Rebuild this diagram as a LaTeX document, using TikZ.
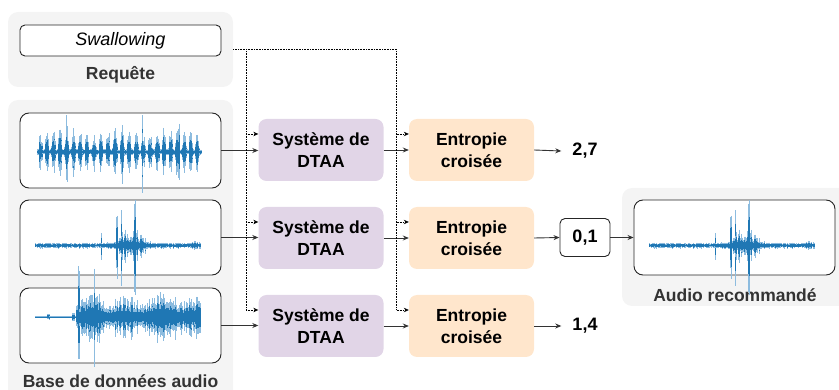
\documentclass[tikz,border=0pt]{standalone}
\usepackage{fontspec}
\setmainfont{Liberation Sans}
\usetikzlibrary{arrows.meta,calc}
\definecolor{grpgray}{HTML}{F4F4F4}
\definecolor{lav}{HTML}{E1D5E7}
\definecolor{peach}{HTML}{FFE6CC}
\definecolor{wblue}{HTML}{1F77B4}
\definecolor{wlight}{HTML}{8DBCDF}
\definecolor{lbl}{HTML}{333333}
\tikzset{
  grp/.style={fill=grpgray,draw=none,rounded corners=10pt,inner sep=0pt},
  audiobox/.style={draw=black!85,line width=0.9pt,fill=white,rounded corners=9pt,minimum width=201pt,minimum height=75pt,inner sep=0pt},
  dtaa/.style={fill=lav,draw=none,rounded corners=8pt,minimum width=125pt,minimum height=62pt,align=center,font=\fontsize{17.5}{22}\selectfont\bfseries,inner sep=0pt},
  ent/.style={dtaa,fill=peach},
  grplabel/.style={font=\fontsize{17.5}{19}\selectfont\bfseries,text=lbl,inner sep=0pt},
  val/.style={font=\fontsize{18}{20}\selectfont\bfseries,inner sep=0pt},
  arr/.style={draw=black!80,line width=0.9pt,-{Stealth[length=6pt,width=5pt]}},
  dotline/.style={draw=black,line width=0.6pt,densely dotted},
  dotarr/.style={dotline,-{Stealth[length=5pt,width=4.5pt]}},
  wavel/.style={draw=wlight,line width=0.5pt},
  waved/.style={draw=wblue,line width=0.5pt},
}
\newcommand{\wavedraw}[5]{%
  \pgfmathsetseed{#4}%
  \foreach \t in {0,0.6,...,#3}{%
    \pgfmathsetmacro\aa{#5}%
    \pgfmathsetmacro\bb{\aa*(0.75+0.5*rnd)}%
    \draw[wavel] (#1+\t,#2-\aa) -- (#1+\t,#2+\bb);
    \draw[waved] (#1+\t,#2-0.62*\aa) -- (#1+\t,#2+0.62*\bb);
  }}
\begin{document}
\begin{tikzpicture}[x=1pt,y=-1pt]
\useasboundingbox (0,0) rectangle (839,390);
\clip (0,0) rectangle (839,390);
% groups
\node[grp,minimum width=225pt,minimum height=75pt] (qgrp) at (120.5,49.5) {};
\node[grp,minimum width=225pt,minimum height=300pt] (bgrp) at (120.5,250) {};
\node[grp,minimum width=228pt,minimum height=118pt] (rgrp) at (736,247) {};
% query
\node[draw=black!85,line width=0.9pt,fill=white,rounded corners=5pt,minimum width=201pt,minimum height=31pt,inner sep=0pt,font=\fontsize{18}{20}\selectfont\itshape] (query) at (120.5,40.5) {Swallowing};
\node[grplabel] (qlab) at (120.5,75) {Requête};
% audio boxes
\node[audiobox] (a1) at (120.5,150.5) {};
\node[audiobox] (a2) at (120.5,237.5) {};
\node[audiobox] (a3) at (120.5,325.5) {};
\node[grplabel] (blab) at (120.5,381) {Base de données audio};
\node[audiobox] (rec) at (734.5,237.5) {};
\node[grplabel] (rlab) at (735,295) {Audio recommandé};
% waveforms
\wavedraw{37}{152}{164}{11}{2+0.8*rnd+(13+12*rnd)*(0.6+0.4*abs(sin(\t*3.3)))*max(0,abs(sin(\t*26.5+30*sin(\t*2.1)))-0.5)/0.5+22*(rnd>0.985)}
\wavedraw{35}{245.5}{166}{5}{1.3+1.5*rnd+(3+14*rnd^2)/(1+min(abs(\t-96)/11,8)^4)+3*rnd/(1+min(abs(\t-161)/3,8)^4)+25*(abs(\t-82)<0.4)+30*(abs(\t-86)<0.4)+36*(abs(\t-100)<0.4)+10*(abs(\t-66)<0.4)}
\wavedraw{35}{317}{166}{3}{(\t<41)*(0.6+2*(abs(\t-13)<1)+3*(abs(\t-38.5)<1.5))+(\t>=41)*(3+(6+14*rnd^2)*(0.45+0.55*abs(sin(\t*5)))+8*rnd/(1+min(abs(\t-60)/8,8)^4)+10*rnd/(1+min(abs(\t-130)/10,8)^4))+38*(abs(\t-43.5)<0.5)+28*(abs(\t-59)<0.5)}
\wavedraw{649}{245.5}{166}{5}{1.3+1.5*rnd+(3+14*rnd^2)/(1+min(abs(\t-96)/11,8)^4)+3*rnd/(1+min(abs(\t-161)/3,8)^4)+25*(abs(\t-82)<0.4)+30*(abs(\t-86)<0.4)+36*(abs(\t-100)<0.4)+10*(abs(\t-66)<0.4)}
% processing boxes
\node[dtaa] (d1) at (321,150) {Système de\\DTAA};
\node[dtaa] (d2) at (321,238) {Système de\\DTAA};
\node[dtaa] (d3) at (321,326) {Système de\\DTAA};
\node[ent] (e1) at (471.5,150) {Entropie\\croisée};
\node[ent] (e2) at (471.5,238) {Entropie\\croisée};
\node[ent] (e3) at (471.5,326) {Entropie\\croisée};
% values
\node[val,inner xsep=11pt] (v1) at (585,151) {2,7};
\node[val,draw=black!85,line width=0.9pt,fill=white,rounded corners=5pt,minimum width=50pt,minimum height=38pt] (v2) at (585,237.5) {0,1};
\node[val,inner xsep=11pt] (v3) at (585,326) {1,4};
% solid connectors
\draw[arr] (a1.east) -- (d1.west |- a1.east);
\draw[arr] (a2.east) -- (d2.west |- a2.east);
\draw[arr] (a3.east) -- (d3.west |- a3.east);
\draw[arr] (d1.east) -- (e1.west);
\draw[arr] (d2.east) -- (e2.west);
\draw[arr] (d3.east) -- (e3.west);
\draw[arr] (e1.east) -- (v1.west);
\draw[arr] (e2.east) -- (v2.west);
\draw[arr] (e3.east) -- (v3.west);
\draw[arr] (v2.east) -- (rec.west |- v2.east);
% dotted query connectors
\foreach \n in {1,2,3}{
  \coordinate (din\n) at ($(d\n.west)+(0,-16)$);
  \coordinate (ein\n) at ($(e\n.west)+(0,-16)$);
}
\coordinate (jL) at (246,49.5);
\coordinate (jR) at (396.5,49.5);
\draw[dotline] (qgrp.east) -- (jR) -- (jR |- ein3);
\draw[dotline] (jL) -- (jL |- din3);
\foreach \n in {1,2,3}{
  \draw[dotarr] (jL |- din\n) -- (din\n);
  \draw[dotarr] (jR |- ein\n) -- (ein\n);
}
\end{tikzpicture}
\end{document}
